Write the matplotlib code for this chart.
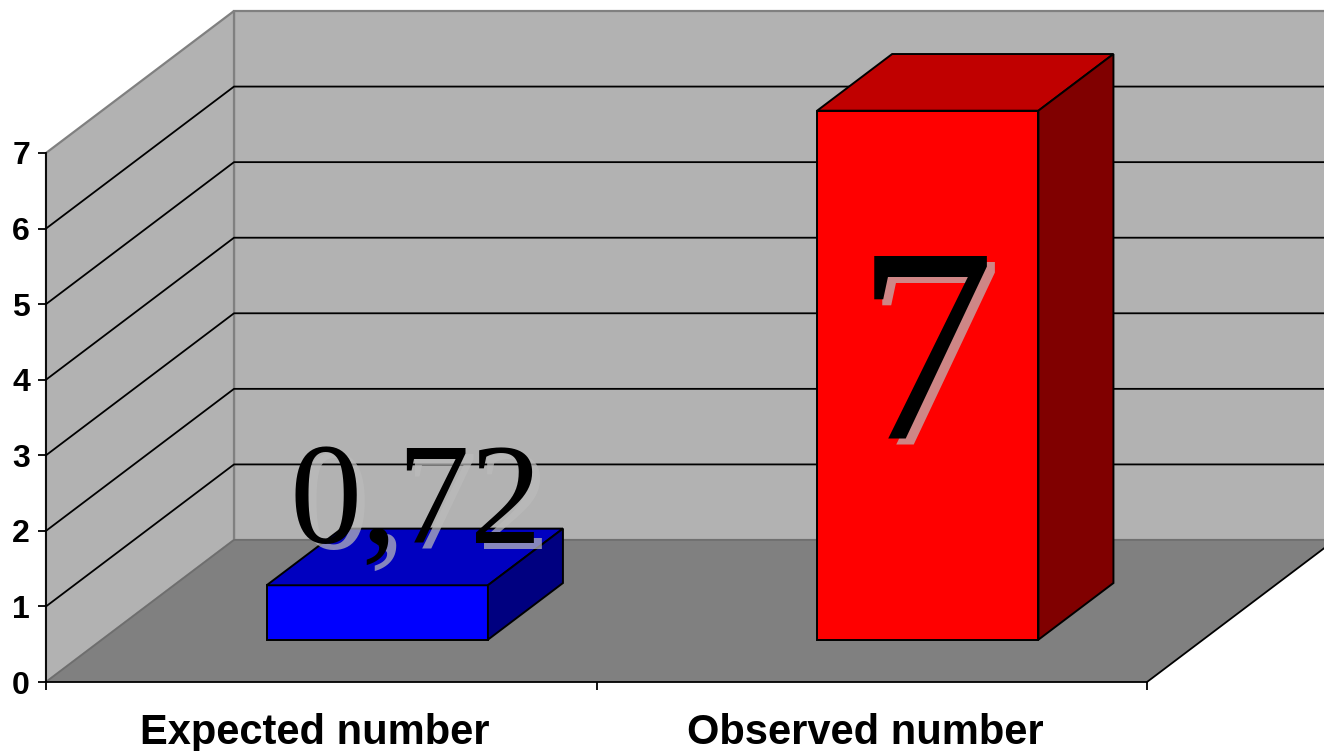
import matplotlib
matplotlib.use("Agg")
import matplotlib.pyplot as plt
from matplotlib.patches import Polygon

categories = ["Expected number", "Observed number"]
values = [0.72, 7]
value_labels = ["0,72", "7"]
y_ticks = [0, 1, 2, 3, 4, 5, 6, 7]

W, H = 1324, 751
px = 72 / 100  # one pixel in points

# 3d look: one unit of depth moves a point this much in data units
DEPTH_X = 188 / 550.5
DEPTH_Y = 142 / 75.57
BAR_W = 0.402
BAR_D0, BAR_D1 = 0.298, 0.697


def proj(x, y, d):
    return (x + d * DEPTH_X, y + d * DEPTH_Y)


def face(ax, corners, color, edge, lw=1.4, z=2):
    pts = [proj(*c) for c in corners]
    ax.add_patch(Polygon(pts, closed=True, facecolor=color, edgecolor=edge,
                         linewidth=lw, zorder=z, clip_on=False, joinstyle="miter"))


fig = plt.figure(figsize=(W / 100, H / 100), dpi=100)
ax = fig.add_axes([46 / W, (H - 682) / H, 1101 / W, 529 / H])
ax.set_xlim(0, 2)
ax.set_ylim(0, 7)
ax.patch.set_visible(False)

ymax = y_ticks[-1]
wall = "#b2b2b2"
wall_edge = "#808080"

# walls and floor
face(ax, [(0, 0, 1), (2, 0, 1), (2, ymax, 1), (0, ymax, 1)], wall, wall_edge, 1.6, 1)
face(ax, [(0, 0, 0), (0, 0, 1), (0, ymax, 1), (0, ymax, 0)], wall, wall_edge, 1.6, 1)
face(ax, [(0, 0, 0), (2, 0, 0), (2, 0, 1), (0, 0, 1)], "#808080", "none", 0, 1)

# gridlines
for v in y_ticks[1:-1]:
    xs, ys = zip(proj(0, v, 0), proj(0, v, 1), proj(2, v, 1))
    ax.plot(xs, ys, color="black", lw=1.3, zorder=1.5, clip_on=False)

# floor edges
xs, ys = zip(proj(0, 0, 0), proj(0, 0, 1), proj(2, 0, 1))
ax.plot(xs, ys, color="#6e6e6e", lw=1.2, zorder=1.4, clip_on=False)
xs, ys = zip(proj(2, 0, 0), proj(2, 0, 1))
ax.plot(xs, ys, color="black", lw=1.3, zorder=1.5, clip_on=False)

# bars
colors = [("#0000ff", "#0000c0", "#000080"), ("#ff0000", "#c00000", "#800000")]
label_offsets = [(39, 42), (-3, -327)]
label_sizes = [104, 200]
for i, v in enumerate(values):
    l, r = i + 0.5 - BAR_W / 2, i + 0.5 + BAR_W / 2
    front, top, side = colors[i]
    face(ax, [(l, 0, BAR_D0), (r, 0, BAR_D0), (r, v, BAR_D0), (l, v, BAR_D0)], front, "black")
    face(ax, [(l, v, BAR_D0), (r, v, BAR_D0), (r, v, BAR_D1), (l, v, BAR_D1)], top, "black")
    face(ax, [(r, 0, BAR_D0), (r, 0, BAR_D1), (r, v, BAR_D1), (r, v, BAR_D0)], side, "black")

    # value label with its soft shadow
    xy = proj(i + 0.5, v, BAR_D0)
    ox, oy = label_offsets[i]
    for dx, dy, col, al, z in [(8, -6, "#bbbbbb", 0.72, 5), (0, 0, "black", 1, 6)]:
        ax.annotate(value_labels[i], xy=xy, xytext=((ox + dx) * px, (oy + dy) * px),
                    textcoords="offset points", ha="center", va="baseline",
                    family="Liberation Serif", fontsize=label_sizes[i],
                    color=col, alpha=al, zorder=z, annotation_clip=False)

    # category names sit a little left of the bar slot
    ax.annotate(categories[i], xy=(i + 0.5, 0), xytext=(-6 * px, -62 * px),
                textcoords="offset points", ha="center", va="baseline",
                family="Liberation Sans", fontweight="bold", fontsize=30,
                annotation_clip=False)

# axes
ax.set_yticks(y_ticks)
ax.set_xticks([0, 1, 2])
ax.set_xticklabels([])
ax.tick_params(axis="y", length=8 * px, width=1.3, pad=8 * px, labelsize=23)
ax.tick_params(axis="x", length=8 * px, width=1.3)
for t in ax.get_yticklabels():
    t.set_family("Liberation Sans")
    t.set_fontweight("bold")
ax.spines["top"].set_visible(False)
ax.spines["right"].set_visible(False)
for s in ["left", "bottom"]:
    ax.spines[s].set_linewidth(1.3)
    ax.spines[s].set_zorder(3)

fig.savefig("out.png", dpi=100)
